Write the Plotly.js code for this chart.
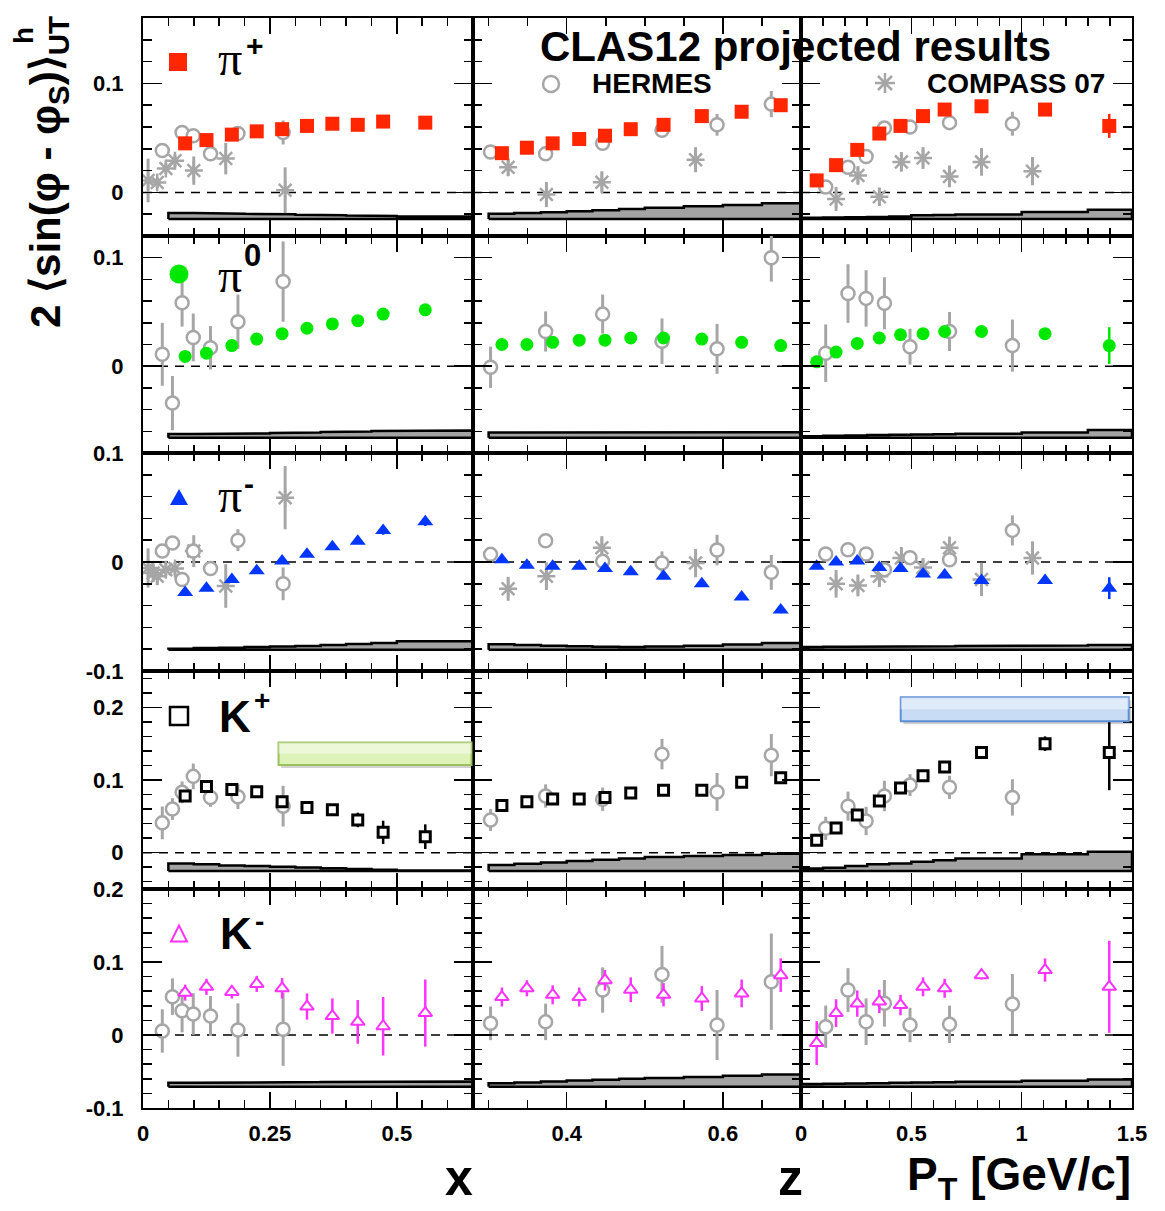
<!DOCTYPE html>
<html>
<head>
<meta charset="utf-8">
<script src="https://cdn.plot.ly/plotly-3.0.1.min.js"></script>
<style>html,body{margin:0;padding:0;background:#fff}</style>
</head>
<body>
<div id="chart" style="width:1165px;height:1211px"></div>
<script>
// ---------- kinematic bins ----------
const xBins  = [0.083, 0.125, 0.175, 0.224, 0.274, 0.323, 0.373, 0.423, 0.473, 0.556];
const zBins  = [0.317, 0.349, 0.382, 0.416, 0.449, 0.482, 0.524, 0.573, 0.624, 0.674];
const ptBins = [0.071, 0.159, 0.255, 0.355, 0.451, 0.553, 0.651, 0.818, 1.106, 1.397];

// ---------- CLAS12 projections ----------
const piPlusX   = [0.045, 0.048, 0.053, 0.056, 0.058, 0.061, 0.063, 0.062, 0.065, 0.064];
const piPlusZ   = [0.036, 0.041, 0.045, 0.049, 0.052, 0.058, 0.062, 0.070, 0.074, 0.080];
const piPlusPt  = [0.011, 0.025, 0.039, 0.054, 0.061, 0.070, 0.076, 0.079, 0.076, 0.061];
const piPlusErrX  = [0.002, 0.002, 0.002, 0.002, 0.002, 0.002, 0.002, 0.002, 0.002, 0.003];
const piPlusErrZ  = [0.002, 0.002, 0.002, 0.002, 0.002, 0.002, 0.002, 0.002, 0.002, 0.003];
const piPlusErrPt = [0.002, 0.002, 0.002, 0.002, 0.002, 0.002, 0.002, 0.002, 0.003, 0.011];

const piZeroX   = [0.009, 0.012, 0.019, 0.025, 0.030, 0.035, 0.039, 0.042, 0.048, 0.052];
const piZeroZ   = [0.020, 0.020, 0.022, 0.024, 0.024, 0.026, 0.026, 0.025, 0.022, 0.019];
const piZeroPt  = [0.004, 0.013, 0.021, 0.026, 0.029, 0.030, 0.032, 0.032, 0.030, 0.019];
const piZeroErrX  = [0.002, 0.002, 0.002, 0.002, 0.002, 0.002, 0.002, 0.002, 0.002, 0.003];
const piZeroErrZ  = [0.002, 0.002, 0.002, 0.002, 0.002, 0.002, 0.002, 0.002, 0.002, 0.003];
const piZeroErrPt = [0.002, 0.002, 0.002, 0.002, 0.002, 0.002, 0.002, 0.002, 0.003, 0.017];

const piMinusX  = [-0.028, -0.024, -0.016, -0.008, 0.001, 0.007, 0.014, 0.019, 0.029, 0.037];
const piMinusZ  = [0.002, -0.003, -0.004, -0.004, -0.006, -0.009, -0.013, -0.020, -0.032, -0.044];
const piMinusPt = [-0.004, 0.000, 0.001, -0.005, -0.006, -0.011, -0.012, -0.017, -0.017, -0.024];
const piMinusErrX  = [0.002, 0.002, 0.002, 0.002, 0.002, 0.002, 0.002, 0.002, 0.004, 0.004];
const piMinusErrZ  = [0.002, 0.002, 0.002, 0.002, 0.002, 0.002, 0.002, 0.002, 0.002, 0.003];
const piMinusErrPt = [0.002, 0.002, 0.002, 0.002, 0.002, 0.002, 0.002, 0.002, 0.003, 0.010];

const kPlusX   = [0.078, 0.091, 0.087, 0.084, 0.070, 0.062, 0.059, 0.045, 0.028, 0.022];
const kPlusZ   = [0.065, 0.070, 0.074, 0.074, 0.076, 0.082, 0.086, 0.086, 0.097, 0.103];
const kPlusPt  = [0.017, 0.034, 0.052, 0.071, 0.089, 0.106, 0.118, 0.138, 0.150, 0.138];
const kPlusErrX  = [0.003, 0.003, 0.003, 0.003, 0.004, 0.004, 0.005, 0.010, 0.016, 0.017];
const kPlusErrZ  = [0.003, 0.003, 0.003, 0.003, 0.003, 0.003, 0.004, 0.004, 0.005, 0.006];
const kPlusErrPt = [0.003, 0.003, 0.003, 0.003, 0.003, 0.004, 0.004, 0.005, 0.010, 0.052];

const kMinusX  = [0.058, 0.066, 0.059, 0.070, 0.064, 0.039, 0.026, 0.018, 0.012, 0.030];
const kMinusZ  = [0.052, 0.064, 0.055, 0.052, 0.075, 0.062, 0.055, 0.050, 0.057, 0.082];
const kMinusPt = [-0.011, 0.030, 0.043, 0.046, 0.041, 0.066, 0.064, 0.082, 0.089, 0.066];
const kMinusErrX  = [0.011, 0.011, 0.009, 0.011, 0.014, 0.018, 0.024, 0.030, 0.040, 0.046];
const kMinusErrZ  = [0.013, 0.011, 0.013, 0.013, 0.014, 0.017, 0.016, 0.017, 0.019, 0.023];
const kMinusErrPt = [0.030, 0.019, 0.018, 0.016, 0.014, 0.013, 0.013, 0.006, 0.016, 0.063];

// ---------- HERMES ----------
const hermesXBins  = [0.038, 0.058, 0.077, 0.099, 0.133, 0.187, 0.276];
const hermesZBins  = [0.3025, 0.373, 0.446, 0.522, 0.5925, 0.662];
const hermesPtBins = [0.112, 0.213, 0.295, 0.378, 0.494, 0.673, 0.958];

const hermesPiPlusX   = [0.0385, null, 0.055, 0.052, 0.0355, 0.054, 0.055];
const hermesPiPlusZ   = [0.037, 0.0355, 0.045, 0.057, 0.062, 0.081];
const hermesPiPlusPt  = [0.005, 0.023, 0.033, 0.059, 0.060, 0.064, 0.063];
const hermesPiPlusErrX  = [0.004, 0, 0.004, 0.004, 0.004, 0.005, 0.011];
const hermesPiPlusErrZ  = [0.004, 0.005, 0.005, 0.006, 0.010, 0.012];
const hermesPiPlusErrPt = [0.004, 0.004, 0.005, 0.005, 0.005, 0.006, 0.011];

const hermesPiZeroX   = [0.011, -0.034, 0.0585, 0.0265, 0.017, 0.041, 0.078];
const hermesPiZeroZ   = [-0.001, 0.032, 0.048, 0.023, 0.016, 0.100];
const hermesPiZeroPt  = [0.012, 0.067, 0.0625, 0.058, 0.018, 0.032, 0.019];
const hermesPiZeroErrX  = [0.029, 0.025, 0.022, 0.022, 0.020, 0.025, 0.037];
const hermesPiZeroErrZ  = [0.019, 0.0185, 0.018, 0.021, 0.023, 0.022];
const hermesPiZeroErrPt = [0.0265, 0.027, 0.026, 0.024, 0.0165, 0.018, 0.024];

const hermesPiMinusX  = [0.010, 0.0175, -0.016, 0.010, -0.006, 0.020, -0.020];
const hermesPiMinusZ  = [0.007, 0.0195, 0.0006, -0.001, 0.011, -0.0095];
const hermesPiMinusPt = [0.0074, 0.0113, 0.0074, -0.007, 0.004, 0.002, 0.029];
const hermesPiMinusErrX  = [0.004, 0.004, 0.005, 0.005, 0.005, 0.010, 0.015];
const hermesPiMinusErrZ  = [0.004, 0.004, 0.005, 0.0107, 0.014, 0.016];
const hermesPiMinusErrPt = [0.004, 0.004, 0.004, 0.005, 0.005, 0.006, 0.0138];

const hermesKPlusX  = [0.041, 0.060, 0.083, 0.105, 0.076, 0.077, 0.064];
const hermesKPlusZ  = [0.045, 0.078, 0.0735, 0.1356, 0.0836, 0.1342];
const hermesKPlusPt = [0.0335, 0.064, 0.0436, 0.078, 0.093, 0.090, 0.076];
const hermesKPlusErrX  = [0.0225, 0.015, 0.015, 0.0177, 0.013, 0.017, 0.028];
const hermesKPlusErrZ  = [0.015, 0.016, 0.016, 0.021, 0.026, 0.029];
const hermesKPlusErrPt = [0.016, 0.020, 0.0195, 0.021, 0.015, 0.016, 0.025];

const hermesKMinusX  = [0.0055, 0.0525, 0.0333, 0.0288, 0.026, 0.0068, 0.0078];
const hermesKMinusZ  = [0.016, 0.018, 0.0616, 0.083, 0.0137, 0.073];
const hermesKMinusPt = [0.0114, 0.0616, 0.0182, 0.0434, 0.0137, 0.0146, 0.0425];
const hermesKMinusErrX  = [0.0297, 0.025, 0.0297, 0.0285, 0.0274, 0.0365, 0.050];
const hermesKMinusErrZ  = [0.023, 0.025, 0.031, 0.039, 0.048, 0.066];
const hermesKMinusErrPt = [0.029, 0.030, 0.032, 0.032, 0.0235, 0.0256, 0.041];

// ---------- COMPASS 07 ----------
const compassXBins  = [0.010, 0.020, 0.028, 0.045, 0.063, 0.100, 0.163, 0.280];
const compassZBins  = [0.325, 0.374, 0.445, 0.565];
const compassPtBins = [0.159, 0.258, 0.355, 0.455, 0.553, 0.673, 0.818, 1.049];

const compassPiPlusX   = [0.011, null, 0.009, 0.022, 0.029, 0.020, 0.031, 0.002];
const compassPiPlusZ   = [0.023, -0.002, 0.0094, 0.030];
const compassPiPlusPt  = [-0.006, 0.0156, -0.004, 0.028, 0.0315, 0.0147, 0.028, 0.0195];
const compassPiPlusErrX  = [0.020, 0, 0.005, 0.005, 0.006, 0.013, 0.0145, 0.021];
const compassPiPlusErrZ  = [0.008, 0.0115, 0.010, 0.0115];
const compassPiPlusErrPt = [0.011, 0.0084, 0.0084, 0.009, 0.010, 0.010, 0.0127, 0.013];

const compassPiMinusX  = [-0.0055, -0.010, -0.013, -0.007, -0.006, 0.010, -0.022, 0.059];
const compassPiMinusZ  = [-0.0246, -0.013, 0.013, -0.001];
const compassPiMinusPt = [-0.020, -0.0215, -0.013, 0.0037, -0.005, 0.013, -0.016, 0.0037];
const compassPiMinusErrX  = [0.018, 0.008, 0.008, 0.006, 0.006, 0.0146, 0.020, 0.029];
const compassPiMinusErrZ  = [0.011, 0.0127, 0.0107, 0.013];
const compassPiMinusErrPt = [0.0127, 0.010, 0.010, 0.010, 0.0084, 0.0103, 0.0153, 0.0153];

// ---------- systematic uncertainty bands ----------
const bandEdgesX  = [0.05, 0.10, 0.15, 0.20, 0.25, 0.30, 0.35, 0.40, 0.45, 0.50, 0.65];
const bandEdgesZ  = [0.30, 0.333, 0.367, 0.40, 0.433, 0.467, 0.50, 0.55, 0.60, 0.65, 0.70];
const bandEdgesPt = [0.0, 0.1, 0.2, 0.3, 0.4, 0.5, 0.6, 0.7, 1.0, 1.3, 1.5];

const bandBase = [-0.0245, -0.066, -0.0805, -0.0254, -0.0708];

const sysPiPlusX   = [-0.0190, -0.0190, -0.0195, -0.0197, -0.0200, -0.0205, -0.0210, -0.0213, -0.0216, -0.0220];
const sysPiPlusZ   = [-0.0196, -0.0190, -0.0181, -0.0172, -0.0163, -0.0152, -0.0141, -0.0128, -0.0115, -0.0100];
const sysPiPlusPt  = [-0.0232, -0.0230, -0.0228, -0.0226, -0.0222, -0.0210, -0.0207, -0.0203, -0.0180, -0.0160];
const sysPiZeroX   = [-0.0625, -0.0625, -0.0620, -0.0620, -0.0615, -0.0612, -0.0607, -0.0602, -0.0597, -0.0592];
const sysPiZeroZ   = [-0.0610, -0.0610, -0.0612, -0.0613, -0.0613, -0.0614, -0.0612, -0.0611, -0.0610, -0.0608];
const sysPiZeroPt  = [-0.0645, -0.0642, -0.0638, -0.0635, -0.0632, -0.0630, -0.0627, -0.0622, -0.0610, -0.0587];
const sysPiMinusX  = [-0.0795, -0.0790, -0.0786, -0.0780, -0.0775, -0.0770, -0.0762, -0.0753, -0.0743, -0.0727];
const sysPiMinusZ  = [-0.0755, -0.0762, -0.0768, -0.0772, -0.0778, -0.0780, -0.0775, -0.0768, -0.0757, -0.0742];
const sysPiMinusPt = [-0.0780, -0.0778, -0.0778, -0.0776, -0.0776, -0.0774, -0.0772, -0.0770, -0.0767, -0.0762];
const sysKPlusX    = [-0.0148, -0.0160, -0.0175, -0.0185, -0.0195, -0.0205, -0.0215, -0.0225, -0.0235, -0.0245];
const sysKPlusZ    = [-0.0171, -0.0152, -0.0134, -0.0116, -0.0097, -0.0079, -0.0061, -0.0047, -0.0033, -0.0014];
const sysKPlusPt   = [-0.0217, -0.0207, -0.0185, -0.0161, -0.0148, -0.0124, -0.0106, -0.0079, -0.0023, 0.0014];
const sysKMinusX   = [-0.0655, -0.0655, -0.0652, -0.0650, -0.0648, -0.0645, -0.0643, -0.0640, -0.0640, -0.0638];
const sysKMinusZ   = [-0.0660, -0.0650, -0.0638, -0.0625, -0.0612, -0.0600, -0.0590, -0.0575, -0.0558, -0.0540];
const sysKMinusPt  = [-0.0670, -0.0667, -0.0663, -0.0660, -0.0655, -0.0650, -0.0646, -0.0642, -0.0628, -0.0610];

// ---------- axis tick labels ----------
const yTickVals = [[0, 0.1], [0, 0.1], [-0.1, 0, 0.1], [0, 0.1, 0.2], [-0.1, 0, 0.1, 0.2]];
const yTickText = [['0', '0.1'], ['0', '0.1'], ['-0.1', '0', '0.1'], ['0', '0.1', '0.2'], ['-0.1', '0', '0.1', '0.2']];

// ---------- styling ----------
const SANS = 'Liberation Sans, Arial, Helvetica, sans-serif';
const SERIF = 'Liberation Serif, Times New Roman, serif';
const GRAY = '#a6a6a6';
const RED = '#ff2600';
const GREEN = '#00e800';
const BLUE = '#0036ff';
const MAGENTA = '#ff33ff';

const W = 1165, H = 1211;
const M = {l: 143, r: 33, t: 18, b: 103};
const PW = W - M.l - M.r, PH = H - M.t - M.b;
const fx = px => (px - M.l) / PW;
const fy = py => (H - M.b - py) / PH;

const xDomains = [[0, fx(473)], [fx(473), fx(801)], [fx(801), 1]];
const yDomains = [[fy(236), 1], [fy(453), fy(236)], [fy(671), fy(453)], [fy(889), fy(671)], [0, fy(889)]];
const yRanges = [[-0.04, 0.16], [-0.08, 0.12], [-0.1, 0.1], [-0.05, 0.25], [-0.1, 0.2]];

const cols = [
  {bins: xBins, hBins: hermesXBins, cBins: compassXBins, edges: bandEdgesX, range: [0, 0.65], dtick: 0.25, minor: 0.05},
  {bins: zBins, hBins: hermesZBins, cBins: compassZBins, edges: bandEdgesZ, range: [0.28, 0.70], dtick: 0.2, minor: 0.05},
  {bins: ptBins, hBins: hermesPtBins, cBins: compassPtBins, edges: bandEdgesPt, range: [0, 1.5], dtick: 0.5, minor: 0.1}
];

const rows = [
  {clas: [piPlusX, piPlusZ, piPlusPt], clasErr: [piPlusErrX, piPlusErrZ, piPlusErrPt],
   marker: {symbol: 'square', size: 14, color: RED, line: {width: 0}}, errColor: RED,
   hermes: [hermesPiPlusX, hermesPiPlusZ, hermesPiPlusPt], hermesErr: [hermesPiPlusErrX, hermesPiPlusErrZ, hermesPiPlusErrPt],
   compass: [compassPiPlusX, compassPiPlusZ, compassPiPlusPt], compassErr: [compassPiPlusErrX, compassPiPlusErrZ, compassPiPlusErrPt],
   sys: [sysPiPlusX, sysPiPlusZ, sysPiPlusPt]},
  {clas: [piZeroX, piZeroZ, piZeroPt], clasErr: [piZeroErrX, piZeroErrZ, piZeroErrPt],
   marker: {symbol: 'circle', size: 13, color: GREEN, line: {width: 0}}, errColor: GREEN,
   hermes: [hermesPiZeroX, hermesPiZeroZ, hermesPiZeroPt], hermesErr: [hermesPiZeroErrX, hermesPiZeroErrZ, hermesPiZeroErrPt],
   compass: null, compassErr: null,
   sys: [sysPiZeroX, sysPiZeroZ, sysPiZeroPt]},
  {clas: [piMinusX, piMinusZ, piMinusPt], clasErr: [piMinusErrX, piMinusErrZ, piMinusErrPt],
   marker: {symbol: 'triangle-up', size: 14, color: BLUE, line: {width: 0}}, errColor: BLUE,
   hermes: [hermesPiMinusX, hermesPiMinusZ, hermesPiMinusPt], hermesErr: [hermesPiMinusErrX, hermesPiMinusErrZ, hermesPiMinusErrPt],
   compass: [compassPiMinusX, compassPiMinusZ, compassPiMinusPt], compassErr: [compassPiMinusErrX, compassPiMinusErrZ, compassPiMinusErrPt],
   sys: [sysPiMinusX, sysPiMinusZ, sysPiMinusPt]},
  {clas: [kPlusX, kPlusZ, kPlusPt], clasErr: [kPlusErrX, kPlusErrZ, kPlusErrPt],
   marker: {symbol: 'square', size: 10, color: 'white', line: {color: 'black', width: 3}}, errColor: 'black',
   hermes: [hermesKPlusX, hermesKPlusZ, hermesKPlusPt], hermesErr: [hermesKPlusErrX, hermesKPlusErrZ, hermesKPlusErrPt],
   compass: null, compassErr: null,
   sys: [sysKPlusX, sysKPlusZ, sysKPlusPt]},
  {clas: [kMinusX, kMinusZ, kMinusPt], clasErr: [kMinusErrX, kMinusErrZ, kMinusErrPt],
   marker: {symbol: 'triangle-up', size: 12, color: 'white', line: {color: MAGENTA, width: 2}}, errColor: MAGENTA,
   hermes: [hermesKMinusX, hermesKMinusZ, hermesKMinusPt], hermesErr: [hermesKMinusErrX, hermesKMinusErrZ, hermesKMinusErrPt],
   compass: null, compassErr: null,
   sys: [sysKMinusX, sysKMinusZ, sysKMinusPt]}
];

// closed step outline of a histogram band between a floor and per-bin tops
function stepOutline(edges, tops, base) {
  const xs = [edges[0]], ys = [base];
  for (let i = 0; i < tops.length; i++) {
    xs.push(edges[i], edges[i + 1]);
    ys.push(tops[i], tops[i]);
  }
  xs.push(edges[edges.length - 1], edges[0]);
  ys.push(base, base);
  return {xs, ys};
}

const traces = [];
const layout = {
  width: W, height: H, margin: M, autosize: false,
  paper_bgcolor: 'white', plot_bgcolor: 'white',
  showlegend: false, shapes: [], annotations: [],
  font: {family: SANS, color: 'black'}
};

const tickFont = {family: SANS, size: 22, color: 'black', weight: 'bold'};

rows.forEach((row, r) => {
  cols.forEach((col, c) => {
    const i = r * 3 + c + 1;
    const xa = i === 1 ? 'x' : 'x' + i;
    const ya = i === 1 ? 'y' : 'y' + i;
    layout['xaxis' + (i === 1 ? '' : i)] = {
      domain: xDomains[c], range: col.range, anchor: ya,
      showgrid: false, zeroline: false, showline: true, linecolor: 'black', linewidth: 2, mirror: 'ticks',
      ticks: 'inside', ticklen: 16, tickwidth: 1.5, tickcolor: 'black',
      tickmode: 'linear', tick0: 0, dtick: col.dtick,
      minor: {ticks: 'inside', tickmode: 'linear', tick0: 0, dtick: col.minor, ticklen: 8, tickwidth: 1.5, tickcolor: 'black', showgrid: false},
      showticklabels: r === 4, tickfont: tickFont, ticklabelstandoff: 5, fixedrange: true
    };
    layout['yaxis' + (i === 1 ? '' : i)] = {
      domain: yDomains[r], range: yRanges[r], anchor: xa,
      showgrid: false, zeroline: false, showline: true, linecolor: 'black', linewidth: 2, mirror: 'ticks',
      ticks: 'inside', ticklen: 19, tickwidth: 1.5, tickcolor: 'black',
      tickmode: 'array', tickvals: yTickVals[r], ticktext: yTickText[r],
      minor: {ticks: 'inside', tickmode: 'linear', tick0: 0, dtick: 0.02, ticklen: 9, tickwidth: 1.5, tickcolor: 'black', showgrid: false},
      showticklabels: c === 0, tickfont: tickFont, ticklabelstandoff: 13, fixedrange: true
    };

    // systematic band
    const band = stepOutline(col.edges, row.sys[c], bandBase[r]);
    traces.push({type: 'scatter', mode: 'lines', x: band.xs, y: band.ys, xaxis: xa, yaxis: ya,
      fill: 'toself', fillcolor: '#a3a3a3', line: {color: 'black', width: 2.5}, hoverinfo: 'skip'});

    // zero reference
    layout.shapes.push({type: 'line', xref: xa + ' domain', yref: ya, x0: 0, x1: 1, y0: 0, y1: 0,
      line: {color: 'black', width: 1.5, dash: '9px,7px'}, layer: 'below'});

    // COMPASS 07
    if (row.compass) {
      traces.push({type: 'scatter', mode: 'markers', x: col.cBins, y: row.compass[c], xaxis: xa, yaxis: ya,
        marker: {symbol: 'asterisk-open', size: 15, color: GRAY, line: {color: GRAY, width: 2.5}},
        error_y: {type: 'data', array: row.compassErr[c], color: GRAY, thickness: 3, width: 0}});
    }
    // HERMES
    traces.push({type: 'scatter', mode: 'markers', x: col.hBins, y: row.hermes[c], xaxis: xa, yaxis: ya,
      marker: {symbol: 'circle', size: 13, color: 'white', line: {color: GRAY, width: 2.5}},
      error_y: {type: 'data', array: row.hermesErr[c], color: GRAY, thickness: 3, width: 0}});
    // CLAS12
    traces.push({type: 'scatter', mode: 'markers', x: col.bins, y: row.clas[c], xaxis: xa, yaxis: ya,
      marker: row.marker,
      error_y: {type: 'data', array: row.clasErr[c], color: row.errColor, thickness: 2.5, width: 0}});
  });
});

// projected-range boxes in the K+ row
function addBox(xa, ya, x0, x1, y0, y1, fill, border, dx, dy) {
  layout.shapes.push({type: 'rect', xref: xa, yref: ya, x0: x0 + dx, x1: x1 + dx, y0: y0 - dy, y1: y1 - dy,
    fillcolor: 'rgba(0,0,0,0.18)', line: {width: 0}, layer: 'above'});
  layout.shapes.push({type: 'rect', xref: xa, yref: ya, x0: x0, x1: x1, y0: y0, y1: y1,
    fillcolor: fill, line: {color: border, width: 2}, layer: 'above'});
  layout.shapes.push({type: 'rect', xref: xa, yref: ya, x0: x0, x1: x1, y0: (y0 + y1) / 2, y1: y1,
    fillcolor: 'rgba(255,255,255,0.45)', line: {width: 0}, layer: 'above'});
}
addBox('x10', 'y10', 0.267, 0.647, 0.1205, 0.1517, '#ddf3b8', '#9cc15c', 0.005, 0.004);
addBox('x12', 'y12', 0.452, 1.485, 0.1807, 0.2138, '#c9dcf6', '#5d8fd3', 0.012, 0.004);

// legend keys (pixel-sized glyphs anchored in paper space)
function keyShape(type, cx, cy, path, x0, x1, y0, y1, fill, lineColor, lineWidth) {
  const s = {type: type, xref: 'paper', yref: 'paper', xsizemode: 'pixel', ysizemode: 'pixel',
    xanchor: fx(cx), yanchor: fy(cy), fillcolor: fill, line: {color: lineColor, width: lineWidth}, layer: 'above'};
  if (path) s.path = path; else { s.x0 = x0; s.x1 = x1; s.y0 = y0; s.y1 = y1; }
  layout.shapes.push(s);
}
keyShape('rect', 178, 62, null, -9, 9, -9, 9, RED, RED, 0);
keyShape('circle', 179, 274, null, -9.5, 9.5, -9.5, 9.5, GREEN, GREEN, 0);
keyShape('path', 179, 498, 'M-9,-7L9,-7L0,9Z', 0, 0, 0, 0, BLUE, BLUE, 0);
keyShape('rect', 179, 716, null, -9, 9, -9, 9, 'white', 'black', 2.5);
keyShape('path', 179, 934, 'M-8,-7.5L8,-7.5L0,8.5Z', 0, 0, 0, 0, 'white', MAGENTA, 2);
keyShape('circle', 551, 84, null, -8, 8, -8, 8, 'white', GRAY, 2.5);
keyShape('path', 885, 83, 'M0,-10L0,10M-10,0L10,0M-7,-7L7,7M-7,7L7,-7', 0, 0, 0, 0, 'rgba(0,0,0,0)', GRAY, 2.5);

function note(text, px, py, size, opts) {
  layout.annotations.push(Object.assign({
    text: text, xref: 'paper', yref: 'paper', x: fx(px), y: fy(py), showarrow: false,
    xanchor: 'center', yanchor: 'middle',
    font: {family: SANS, size: size, color: 'black', weight: 'bold'}
  }, opts || {}));
}
const serif = size => ({font: {family: SERIF, size: size, color: 'black'}});

// particle labels
note('π', 229.5, 58, 48, serif(48));
note('+', 255, 45, 30);
note('π', 229.5, 275, 48, serif(48));
note('0', 252, 256, 31);
note('π', 229.5, 495, 48, serif(48));
note('-', 249, 483, 30);
note('K', 235, 716, 44);
note('+', 261.5, 700, 28);
note('K', 236, 933, 44);
note('-', 259, 921, 28);

// title and data-set keys
note('CLAS12 projected results', 795, 47, 42);
note('HERMES', 590, 84, 28, {xanchor: 'left'});
note('COMPASS 07', 925, 84, 28, {xanchor: 'left'});

// axis titles
note('x', 459, 1178, 50);
note('z', 790, 1178, 50);
note('P<sub>T</sub> [GeV/c]', 905, 1146, 46, {xanchor: 'left', yanchor: 'top'});
note('2 ⟨sin(φ - φ<sub>S</sub>)⟩<sub>UT</sub>', 48, 330, 42, {textangle: -90, yanchor: 'bottom'});
note('h', 24, 36, 28, {textangle: -90});

traces.forEach(t => { t.showlegend = false; if (!t.hoverinfo) t.hoverinfo = 'x+y'; });

Plotly.newPlot('chart', traces, layout, {displayModeBar: false, staticPlot: true});
</script>
</body>
</html>
